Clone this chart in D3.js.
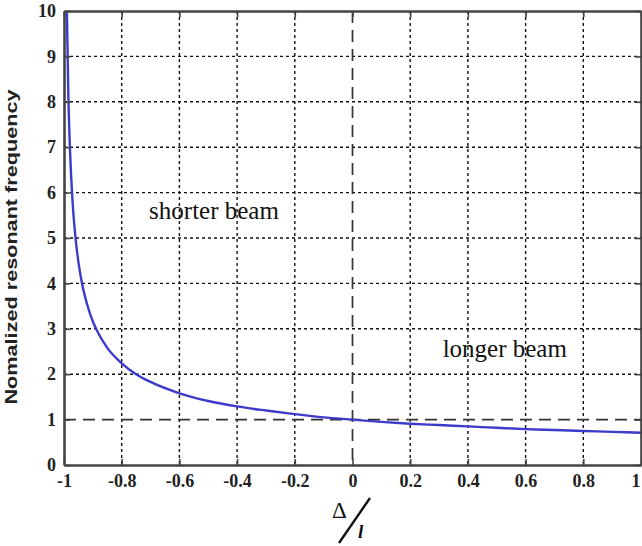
<!DOCTYPE html>
<html><head><meta charset="utf-8">
<script src="https://cdn.jsdelivr.net/npm/d3@7"></script>
<style>body{margin:0;background:#fff}svg{display:block}</style>
</head><body>
<svg id="c" width="642" height="546"></svg>
<script>
const xTicks = [-1,-0.8,-0.6,-0.4,-0.2,0,0.2,0.4,0.6,0.8,1];
const xTickLabels = ["-1","-0.8","-0.6","-0.4","-0.2","0","0.2","0.4","0.6","0.8","1"];
const yTicks = [0,1,2,3,4,5,6,7,8,9,10];
const curveX = [-0.99,-0.985,-0.98,-0.97,-0.96,-0.95,-0.94,-0.92,-0.9,-0.88,-0.85,-0.8,-0.75,-0.7,-0.6,-0.5,-0.4,-0.3,-0.2,-0.1,0,0.1,0.2,0.3,0.4,0.5,0.6,0.7,0.8,0.9,1];
const curveY = [10.0,8.16,7.07,5.77,5.0,4.47,4.08,3.54,3.16,2.89,2.58,2.24,2.0,1.83,1.58,1.41,1.29,1.2,1.12,1.05,1.0,0.95,0.91,0.88,0.85,0.82,0.79,0.77,0.75,0.73,0.71];
const refX = [0];
const refY = [1];
const yLabel = "Nomalized resonant frequency";
const annotations = [{text:"shorter beam", x:-0.705, y:5.42},{text:"longer beam", x:0.3125, y:2.38}];

const svg = d3.select("#c");
const L=64, R=641, T=11, B=465;
const x = d3.scaleLinear().domain([-1,1]).range([L,R]);
const y = d3.scaleLinear().domain([0,10]).range([B,T]);

// grid
const g = svg.append("g");
g.selectAll(".gx").data(xTicks.filter(d=>d>-1&&d<1&&!refX.includes(d))).join("line")
 .attr("x1",d=>x(d)).attr("x2",d=>x(d)).attr("y1",T).attr("y2",B)
 .attr("stroke","#111").attr("stroke-width",1.4).attr("stroke-dasharray","3,3");
g.selectAll(".gy").data(yTicks.filter(d=>d>0&&d<10&&!refY.includes(d))).join("line")
 .attr("y1",d=>y(d)).attr("y2",d=>y(d)).attr("x1",L).attr("x2",R)
 .attr("stroke","#111").attr("stroke-width",1.4).attr("stroke-dasharray","3,3");
// reference dashed lines
g.selectAll(".rx").data(refX).join("line")
 .attr("x1",d=>x(d)).attr("x2",d=>x(d)).attr("y1",T).attr("y2",B)
 .attr("stroke","#333").attr("stroke-width",1.7).attr("stroke-dasharray","12,7");
g.selectAll(".ry").data(refY).join("line")
 .attr("y1",d=>y(d)).attr("y2",d=>y(d)).attr("x1",L).attr("x2",R)
 .attr("stroke","#333").attr("stroke-width",1.7).attr("stroke-dasharray","12,7");

// curve
const pts = curveX.map((v,i)=>[v,curveY[i]]);
svg.append("path").datum(pts)
 .attr("d",d3.line().x(d=>x(d[0])).y(d=>y(d[1])).curve(d3.curveMonotoneX))
 .attr("fill","none").attr("stroke","#3b3bcc").attr("stroke-width",2.4);

// axes
const font = "'Liberation Serif','Times New Roman',serif";
const xAxis = svg.append("g").attr("transform",`translate(0,${B})`)
 .call(d3.axisBottom(x).tickValues(xTicks).tickFormat((d,i)=>xTickLabels[i]).tickSizeInner(-6).tickSizeOuter(0).tickPadding(9));
const xAxisTop = svg.append("g").attr("transform",`translate(0,${T})`)
 .call(d3.axisTop(x).tickValues(xTicks).tickFormat("").tickSizeInner(-6).tickSizeOuter(0));
const yAxis = svg.append("g").attr("transform",`translate(${L},0)`)
 .call(d3.axisLeft(y).tickValues(yTicks).tickFormat(d3.format("d")).tickSizeInner(-6).tickSizeOuter(0).tickPadding(8));
const yAxisR = svg.append("g").attr("transform",`translate(${R},0)`)
 .call(d3.axisRight(y).tickValues(yTicks).tickFormat("").tickSizeInner(-6).tickSizeOuter(0));
[xAxis,xAxisTop,yAxis,yAxisR].forEach(a=>{
  a.select(".domain").attr("stroke","#444").attr("stroke-width",2.6);
  a.selectAll(".tick line").attr("stroke","#444").attr("stroke-width",1.6);
  a.selectAll("text").attr("font-family",font).attr("font-weight","bold").attr("font-size",18).attr("fill","#222");
});
xAxis.selectAll("text").attr("dy","0.71em");
xAxis.selectAll(".tick text").filter(d=>d===1).attr("text-anchor","end").attr("dx",-1);

// y label
svg.append("text").attr("transform",`translate(17,247) rotate(-90)`)
 .attr("text-anchor","middle").attr("font-family","'Liberation Sans',Arial,sans-serif")
 .attr("font-weight","bold").attr("font-size",17).attr("fill","#222")
 .attr("textLength",315).attr("lengthAdjust","spacingAndGlyphs").text(yLabel);

// annotations
svg.selectAll(".ann").data(annotations).join("text")
 .attr("x",d=>x(d.x)).attr("y",d=>y(d.y)).attr("font-family",font).attr("font-size",25).attr("fill","#111")
 .text(d=>d.text);

// x label Δ/l
const xl = svg.append("g").attr("fill","#111");
xl.append("text").attr("x",332).attr("y",518).attr("font-family",font).attr("font-size",23).text("Δ");
xl.append("line").attr("x1",339).attr("y1",543).attr("x2",370).attr("y2",498).attr("stroke","#111").attr("stroke-width",2.4);
xl.append("text").attr("x",358).attr("y",538).attr("font-family",font).attr("font-style","italic").attr("font-weight","bold").attr("font-size",19).text("l");
</script>
</body></html>
